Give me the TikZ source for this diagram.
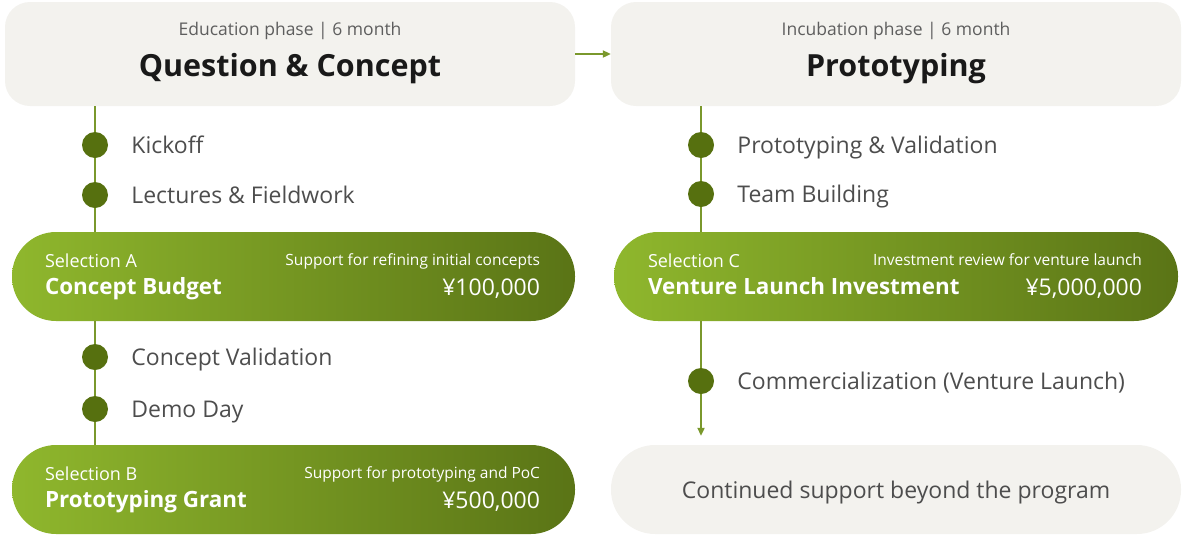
\documentclass[tikz,border=0pt]{standalone}
\usepackage{fontspec}
\setmainfont{Open Sans}
\usetikzlibrary{positioning,arrows.meta}

\definecolor{boxgray}{HTML}{F3F2EE}
\definecolor{linegreen}{HTML}{7A982C}
\definecolor{dotgreen}{HTML}{56700F}
\definecolor{pilllight}{HTML}{8FB72D}
\definecolor{pilldark}{HTML}{5A7416}
\definecolor{labelgray}{HTML}{4D4D4D}
\definecolor{phasegray}{HTML}{5E5E5E}

\tikzset{
  phasebox/.style={fill=boxgray, rounded corners=25pt, minimum width=570pt, minimum height=104pt, inner sep=0pt},
  pill/.style={left color=pilllight, right color=pilldark, rounded corners=44pt, minimum width=563pt, minimum height=89pt, inner sep=0pt},
  endbox/.style={fill=boxgray, rounded corners=44pt, minimum width=570pt, minimum height=89pt, inner sep=0pt},
  dot/.style={circle, fill=dotgreen, minimum size=26pt, inner sep=0pt},
  tline/.style={linegreen, line width=2pt},
  tarrow/.style={tline, -{Triangle[length=8pt,width=7pt]}},
  phase/.style={text=phasegray, font=\fontsize{17.5}{20}\selectfont, inner sep=0pt},
  title/.style={text=black!90, font=\fontsize{30.5}{34}\selectfont\bfseries, inner sep=0pt},
  step label/.style={text=labelgray, font=\fontsize{23}{27}\selectfont, inner sep=0pt, text height=16.4pt, text depth=0pt, anchor=west},
  seltag/.style={text=white, font=\fontsize{18}{21}\selectfont, inner sep=0pt},
  selname/.style={text=white, font=\fontsize{22.4}{26}\selectfont\bfseries, inner sep=0pt},
  seldesc/.style={text=white, font=\fontsize{15.5}{18}\selectfont, inner sep=0pt},
  selsum/.style={text=white, font=\fontsize{23}{27}\selectfont, inner sep=0pt},
}

\begin{document}
\begin{tikzpicture}[x=1pt,y=-1pt]
    \useasboundingbox (0,0) rectangle (1182,536);

    % Phase headers
    \node[phasebox] (edu) at (290,54) {};
    \node[phasebox] (proto) at (896,54) {};
    \node[phase, anchor=base] at ([yshift=-34pt]edu.north) {Education phase | 6 month};
    \node[title, anchor=base] at ([yshift=-75pt]edu.north) {Question \& Concept};
    \node[phase, anchor=base] at ([yshift=-34pt]proto.north) {Incubation phase | 6 month};
    \node[title, anchor=base] at ([yshift=-75pt]proto.north) {Prototyping};
    \draw[tarrow] (edu.east) -- (proto.west);

    % Selection pills
    \node[pill] (selA) at (293.5,276.5) {};
    \node[pill] (selB) at (293.5,489.5) {};
    \node[pill, minimum width=564pt] (selC) at (896,276.5) {};
    \node[endbox] (cont) at (896,489.5) {};
    \node[step label, anchor=center] at ([yshift=-1pt]cont.center) {Continued support beyond the program};

    \node[seltag, anchor=base west] at ([xshift=33pt,yshift=9pt]selA.west) {Selection A};
    \node[selname, anchor=base west] at ([xshift=33pt,yshift=-18pt]selA.west) {Concept Budget};
    \node[seldesc, anchor=base east] at ([xshift=-35pt,yshift=11pt]selA.east) {Support for refining initial concepts};
    \node[selsum, anchor=base east] at ([xshift=-35pt,yshift=-19pt]selA.east) {¥100,000};

    \node[seltag, anchor=base west] at ([xshift=33pt,yshift=9pt]selB.west) {Selection B};
    \node[selname, anchor=base west] at ([xshift=33pt,yshift=-18pt]selB.west) {Prototyping Grant};
    \node[seldesc, anchor=base east] at ([xshift=-35pt,yshift=11pt]selB.east) {Support for prototyping and PoC};
    \node[selsum, anchor=base east] at ([xshift=-35pt,yshift=-19pt]selB.east) {¥500,000};

    \node[seltag, anchor=base west] at ([xshift=34pt,yshift=9pt]selC.west) {Selection C};
    \node[selname, anchor=base west] at ([xshift=34pt,yshift=-18pt]selC.west) {Venture Launch Investment};
    \node[seldesc, anchor=base east] at ([xshift=-36pt,yshift=11pt]selC.east) {Investment review for venture launch};
    \node[selsum, anchor=base east] at ([xshift=-36pt,yshift=-19pt]selC.east) {¥5,000,000};

    % Left timeline
    \node[dot] (k1) at (95,145) {};
    \node[dot] (k2) at (95,195) {};
    \node[dot] (k3) at (95,357) {};
    \node[dot] (k4) at (95,409) {};
    \node[step label, right=23pt of k1] {Kickoff};
    \node[step label, right=23pt of k2] {Lectures \& Fieldwork};
    \node[step label, right=23pt of k3] {Concept Validation};
    \node[step label, right=23pt of k4] {Demo Day};
    \draw[tline] (edu.south -| k1) -- (k1) (k1) -- (k2) (k2) -- (selA.north -| k2);
    \draw[tline] (selA.south -| k3) -- (k3) (k3) -- (k4) (k4) -- (selB.north -| k4);

    % Right timeline
    \node[dot] (p1) at (701,145) {};
    \node[dot] (p2) at (701,194) {};
    \node[dot] (p3) at (701,381) {};
    \node[step label, right=23pt of p1] {Prototyping \& Validation};
    \node[step label, right=23pt of p2] {Team Building};
    \node[step label, right=23pt of p3] {Commercialization (Venture Launch)};
    \draw[tline] (proto.south -| p1) -- (p1) (p1) -- (p2) (p2) -- (selC.north -| p2);
    \draw[tline] (selC.south -| p3) -- (p3);
    \draw[tarrow, shorten >=9pt] (p3) -- (cont.north -| p3);
\end{tikzpicture}
\end{document}
